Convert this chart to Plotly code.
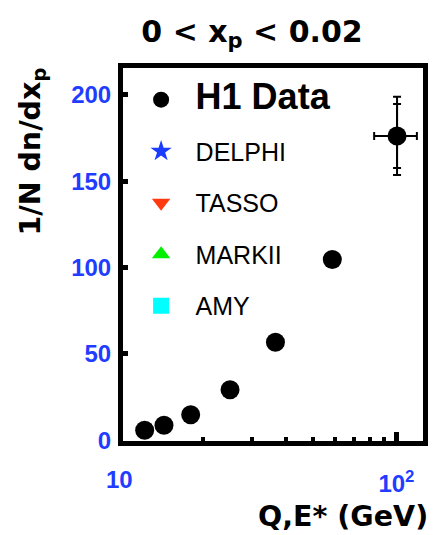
import plotly.graph_objects as go

# ---- data ----
q_values = [12.35, 14.5, 18.1, 25.1, 36.6, 58.7, 100.5]
dn_values = [5.8, 8.7, 14.8, 29.3, 56.8, 104.7, 176.2]
tot_err_plus = [0, 0, 0, 0, 0, 0, 22.7]
tot_err_minus = [0, 0, 0, 0, 0, 0, 22.5]
stat_err = [0, 0, 0, 0, 0, 0, 18.5]
q_err_plus = [0, 0, 0, 0, 0, 0, 18.0]
q_err_minus = [0, 0, 0, 0, 0, 0, 17.4]

y_tickvals = [0, 50, 100, 150, 200]
x_tickvals = [100]
x_ticktext = ["10<sup>2</sup>"]
x_minor_ticks = [20, 30, 40, 50, 60, 70, 80, 90]

legend_names = ["DELPHI", "TASSO", "MARKII", "AMY"]
legend_symbols = ["star", "triangle-down", "triangle-up", "square"]
legend_colors = ["#1a3cff", "#ff3a10", "#00f000", "#00ffff"]

BLUE = "#1f3cff"
FONT = "Liberation Sans"
WIDE = "DejaVu Sans"

fig = go.Figure()

# stat errors (inner ticks)
fig.add_trace(go.Scatter(
    x=q_values, y=dn_values, mode="markers",
    marker=dict(size=1, opacity=0),
    error_y=dict(type="data", array=stat_err, arrayminus=stat_err,
                 color="black", thickness=2, width=4),
    showlegend=False, hoverinfo="skip"))

# H1 data with total errors
fig.add_trace(go.Scatter(
    x=q_values, y=dn_values, mode="markers",
    name="<span style='font-size:36px'><b>H1 Data</b></span>",
    legendgroup="h1",
    marker=dict(size=19, color="black", symbol="circle"),
    error_y=dict(type="data", array=tot_err_plus, arrayminus=tot_err_minus,
                 color="black", thickness=2, width=4),
    error_x=dict(type="data", array=q_err_plus, arrayminus=q_err_minus,
                 color="black", thickness=2, width=4)))

for name, sym, col in zip(legend_names, legend_symbols, legend_colors):
    fig.add_trace(go.Scatter(
        x=[None], y=[None], mode="markers", name=name, legendgroup=name,
        marker=dict(size=17, color=col, symbol=sym)))

fig.update_layout(
    width=435, height=535,
    margin=dict(l=123, r=7, t=68, b=94),
    paper_bgcolor="white", plot_bgcolor="white",
    font=dict(family=FONT, color="black"),
    showlegend=True,
    legend=dict(x=0.012, y=0.976, xanchor="left", yanchor="top",
                bgcolor="rgba(0,0,0,0)", font=dict(size=25, family=FONT),
                itemsizing="trace", itemwidth=59, tracegroupgap=16,
                traceorder="grouped"),
    title=dict(text="<b>0 &lt; x<sub>p</sub> &lt; 0.02</b>",
               font=dict(size=30, family=WIDE, color="black"),
               xref="container", x=252/435, xanchor="center",
               yref="container", y=1-31/535, yanchor="middle"),
)

fig.update_xaxes(
    type="log", range=[1.0135, 2.0958],
    showline=True, linewidth=5, linecolor="black", mirror=True,
    showgrid=False, zeroline=False,
    tickmode="array", tickvals=x_tickvals, ticktext=x_ticktext,
    ticks="inside", ticklen=9, tickwidth=5, tickcolor="black",
    ticklabelstandoff=17,
    tickfont=dict(size=24, color=BLUE, family=FONT, weight="bold"),
    minor=dict(tickmode="array", tickvals=x_minor_ticks, ticks="inside",
               ticklen=4, tickwidth=4, tickcolor="black", showgrid=False),
)
fig.update_yaxes(
    range=[-0.4, 215.6],
    showline=True, linewidth=5, linecolor="black", mirror=True,
    showgrid=False, zeroline=False,
    tickmode="array", tickvals=y_tickvals,
    ticks="inside", ticklen=5, tickwidth=5, tickcolor="black",
    ticklabelstandoff=2,
    tickfont=dict(size=24, color=BLUE, family=FONT, weight="bold"),
)

# "10" label at the left edge of the log axis (just outside plotted range)
fig.add_annotation(x=-0.0125, xref="paper", y=-0.102, yref="paper",
                   text="<b>10</b>", showarrow=False,
                   xanchor="center", yanchor="middle",
                   font=dict(size=24, color=BLUE, family=FONT))
# axis titles
fig.add_annotation(x=1.022, xref="paper", y=-0.203, yref="paper",
                   text="<b>Q,E* (GeV)</b>", showarrow=False,
                   xanchor="right", yanchor="middle",
                   font=dict(size=28.5, color="black", family=WIDE))
fig.add_annotation(x=-0.302, xref="paper", y=0.777, yref="paper",
                   text="<b>1/N dn/dx<sub>p</sub></b>", showarrow=False,
                   textangle=-90, xanchor="center", yanchor="middle",
                   font=dict(size=28.5, color="black", family=WIDE))

# let the figure fill the window (no default page margin), no mode bar
fig.write_html("out.html",
               config={"displayModeBar": False},
               post_script="document.body.style.margin='0';"
                           "document.body.style.overflow='hidden';")
